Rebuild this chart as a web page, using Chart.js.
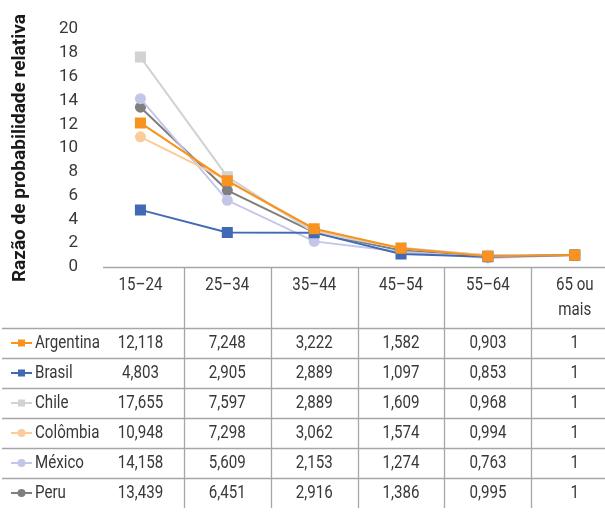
<!DOCTYPE html>
<html>
<head>
<meta charset="utf-8">
<script src="https://cdn.jsdelivr.net/npm/chart.js@4.4.1/dist/chart.umd.min.js"></script>
<style>
  html, body { margin: 0; padding: 0; background: #ffffff; overflow: hidden; }
  #wrap { width: 626px; height: 516px; }
</style>
</head>
<body>
<div id="wrap"><canvas id="c" width="626" height="516"></canvas></div>
<script>
// Faixas etárias (categorias)
const faixas = ['15–24', '25–34', '35–44', '45–54', '55–64', '65 ou mais'];
const faixasCabecalho = [['15–24'], ['25–34'], ['35–44'], ['45–54'], ['55–64'], ['65 ou', 'mais']];

// Razão de probabilidade relativa por país
const argentina = [12.118, 7.248, 3.222, 1.582, 0.903, 1];
const brasil    = [4.803, 2.905, 2.889, 1.097, 0.853, 1];
const chile     = [17.655, 7.597, 2.889, 1.609, 0.968, 1];
const colombia  = [10.948, 7.298, 3.062, 1.574, 0.994, 1];
const mexico    = [14.158, 5.609, 2.153, 1.274, 0.763, 1];
const peru      = [13.439, 6.451, 2.916, 1.386, 0.995, 1];

// Marcas do eixo vertical
const yMin = 0, yMax = 20, yPasso = 2;

const FONTE = 'Roboto, "Open Sans", sans-serif';
const COR_TEXTO = '#383838';
const COR_GRADE = '#a6a6a6';
const ESTREITO = 0.84;   // compressão horizontal do texto da tabela

const series = [
  { label: 'Argentina', data: argentina, color: '#f7931e', style: 'rect' },
  { label: 'Brasil',    data: brasil,    color: '#4169b4', style: 'rect' },
  { label: 'Chile',     data: chile,     color: '#d2d2d2', style: 'rect' },
  { label: 'Colômbia',  data: colombia,  color: '#fdcb9a', style: 'circle' },
  { label: 'México',    data: mexico,    color: '#c3c6e8', style: 'circle' },
  { label: 'Peru',      data: peru,      color: '#7f7f80', style: 'circle' }
];

function fmt(v) {
  return String(v).replace('.', ',');
}

// texto com leve compressão horizontal
function texto(ctx, t, x, y) {
  ctx.save();
  ctx.translate(x, y);
  ctx.scale(ESTREITO, 1);
  ctx.fillText(t, 0, 0);
  ctx.restore();
}

// Tabela de dados sob o gráfico, alinhada às categorias do eixo x
const tabelaPlugin = {
  id: 'tabelaDados',
  afterDraw(chart) {
    const ctx = chart.ctx;
    const x = chart.scales.x;
    const area = chart.chartArea;
    const topo = area.bottom;          // linha do eixo / topo da tabela
    const fimCab = topo + 61;          // base do cabeçalho
    const altLinha = 30;
    const fimTab = fimCab + altLinha * series.length;
    const passo = x.getPixelForValue(1) - x.getPixelForValue(0);
    const direita = chart.width;

    ctx.save();
    ctx.strokeStyle = COR_GRADE;
    ctx.lineWidth = 1.3;

    // linha do eixo
    ctx.beginPath();
    ctx.moveTo(103, topo + 0.5);
    ctx.lineTo(direita, topo + 0.5);
    ctx.stroke();

    // linhas horizontais
    for (let r = 0; r < series.length; r++) {
      const yy = Math.round(fimCab + altLinha * r) + 0.5;
      ctx.beginPath();
      ctx.moveTo(2, yy);
      ctx.lineTo(direita, yy);
      ctx.stroke();
    }

    // divisórias verticais
    for (let i = 0; i < faixas.length - 1; i++) {
      const xx = Math.round(x.getPixelForValue(i) + passo / 2) + 0.5;
      ctx.beginPath();
      ctx.moveTo(xx, topo);
      ctx.lineTo(xx, fimTab);
      ctx.stroke();
    }

    // cabeçalho
    ctx.fillStyle = COR_TEXTO;
    ctx.font = '18px ' + FONTE;
    ctx.textAlign = 'center';
    ctx.textBaseline = 'middle';
    faixasCabecalho.forEach((linhas, i) => {
      const cx = x.getPixelForValue(i);
      linhas.forEach((t, k) => texto(ctx, t, cx, topo + 18 + k * 25));
    });

    // linhas de dados
    series.forEach((s, r) => {
      const cy = fimCab + altLinha * r + altLinha / 2;
      // chave da legenda
      ctx.strokeStyle = s.color;
      ctx.lineWidth = 2;
      ctx.beginPath();
      ctx.moveTo(11, cy);
      ctx.lineTo(32, cy);
      ctx.stroke();
      ctx.fillStyle = s.color;
      if (s.style === 'rect') {
        ctx.fillRect(21.5 - 3.5, cy - 3.5, 7, 7);
      } else {
        ctx.beginPath();
        ctx.arc(21.5, cy, 4, 0, Math.PI * 2);
        ctx.fill();
      }
      ctx.fillStyle = COR_TEXTO;
      ctx.textAlign = 'left';
      texto(ctx, s.label, 35, cy);
      ctx.textAlign = 'center';
      s.data.forEach((v, i) => texto(ctx, fmt(v), x.getPixelForValue(i), cy));
    });
    ctx.restore();
  }
};

new Chart(document.getElementById('c'), {
  type: 'line',
  data: {
    labels: faixas,
    datasets: series.map(s => ({
      label: s.label,
      data: s.data,
      borderColor: s.color,
      backgroundColor: s.color,
      pointBackgroundColor: s.color,
      pointBorderColor: s.color,
      pointBorderWidth: 0,
      pointStyle: s.style,
      pointRadius: s.style === 'rect' ? 7.8 : 5.5,
      pointHoverRadius: s.style === 'rect' ? 7.8 : 5.5,
      borderWidth: 2,
      tension: 0,
      fill: false
    }))
  },
  options: {
    responsive: false,
    devicePixelRatio: 1,
    animation: false,
    layout: { padding: { top: 23, bottom: 249, left: 0, right: 0 } },
    plugins: {
      legend: { display: false },
      tooltip: { enabled: false }
    },
    scales: {
      x: {
        display: false,
        offset: true
      },
      y: {
        min: yMin,
        max: yMax,
        grid: { display: false, drawTicks: false },
        border: { display: false },
        ticks: {
          stepSize: yPasso,
          autoSkip: false,
          padding: 19,
          color: COR_TEXTO,
          font: { family: FONTE, size: 17 }
        },
        title: {
          display: true,
          text: 'Razão de probabilidade relativa',
          color: '#1a1a1a',
          font: { family: FONTE, size: 19, weight: 'bold' },
          padding: { top: 9, bottom: 0 }
        },
        afterFit(scale) { scale.width = 97; }
      }
    }
  },
  plugins: [tabelaPlugin]
});
</script>
</body>
</html>
